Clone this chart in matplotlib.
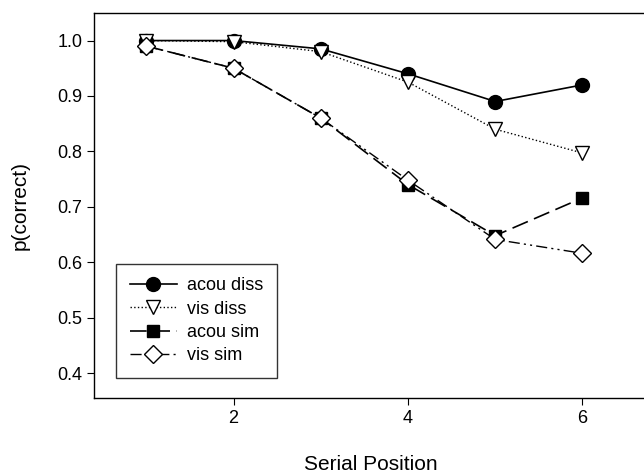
import matplotlib
matplotlib.use("Agg")
import matplotlib.pyplot as plt

plt.rcParams['font.family'] = ['Liberation Sans', 'DejaVu Sans']

positions = [1, 2, 3, 4, 5, 6]
acou_diss = [1.0, 1.0, 0.985, 0.94, 0.89, 0.92]
vis_diss = [1.0, 0.998, 0.98, 0.925, 0.84, 0.797]
acou_sim = [0.99, 0.95, 0.86, 0.74, 0.648, 0.716]
vis_sim = [0.99, 0.95, 0.86, 0.748, 0.641, 0.616]
labels = ["acou diss", "vis diss", "acou sim", "vis sim"]

fig = plt.figure(figsize=(6.44, 4.76), dpi=100)
ax = fig.add_axes([0.146, 0.164, 0.86, 0.809])

ax.plot(positions, acou_diss, '-', color='black', marker='o', ms=10, lw=1.2,
        mfc='black', mec='black', label=labels[0])
ax.plot(positions, vis_diss, ':', color='black', marker='v', ms=10, lw=1.0,
        mfc='white', mec='black', label=labels[1])
ax.plot(positions, acou_sim, color='black', marker='s', ms=9, lw=1.2,
        dashes=(10, 4), mfc='black', mec='black', label=labels[2])
ax.plot(positions, vis_sim, color='black', marker='D', ms=9, lw=1.0,
        dashes=(8, 3, 1.5, 3, 1.5, 3), mfc='white', mec='black', label=labels[3])

ax.set_xlim(0.4, 6.75)
ax.set_ylim(0.355, 1.05)
ax.set_xticks([2, 4, 6])
ax.set_yticks([0.4, 0.5, 0.6, 0.7, 0.8, 0.9, 1.0])
ax.set_yticklabels(["0.4", "0.5", "0.6", "0.7", "0.8", "0.9", "1.0"])
ax.tick_params(labelsize=13, direction='out', length=5, color='black')
ax.spines['right'].set_visible(False)
for s in ['left', 'top', 'bottom']:
    ax.spines[s].set_linewidth(1.0)

ax.set_xlabel("Serial Position", fontsize=15, labelpad=20)
ax.set_ylabel("p(correct)", fontsize=15, labelpad=20)

leg = ax.legend(loc='lower left', bbox_to_anchor=(0.04, 0.052), fontsize=13,
                frameon=True, fancybox=False, edgecolor='black',
                handlelength=2.6, handletextpad=0.6, borderpad=0.75,
                labelspacing=0.35, borderaxespad=0)
leg.get_frame().set_linewidth(1.0)

fig.savefig("out.png", dpi=100)
